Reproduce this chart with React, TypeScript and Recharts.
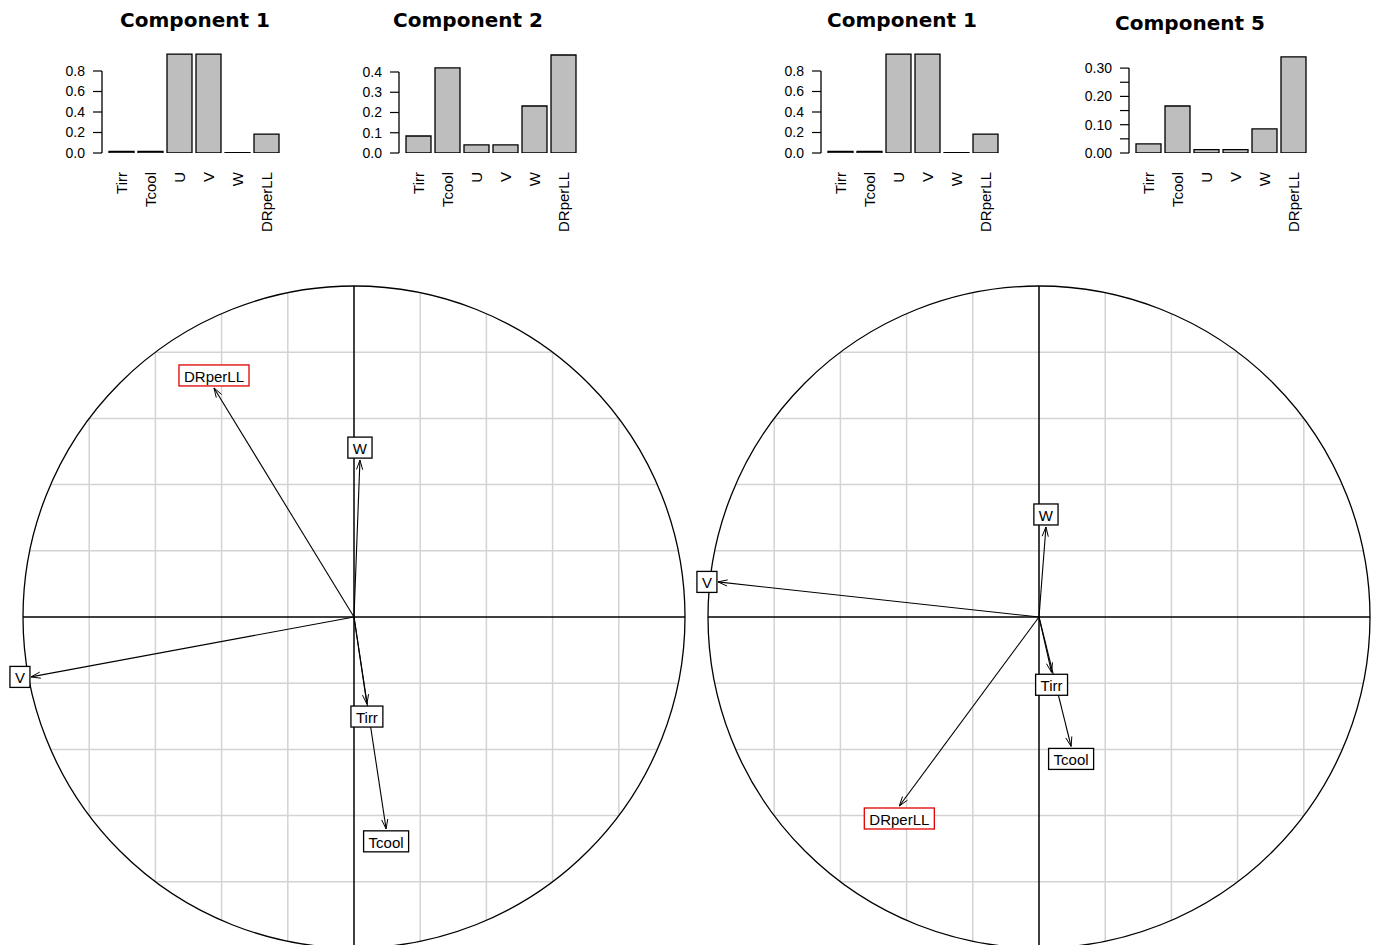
import React from 'react';
import { BarChart, Bar, XAxis, YAxis, ReferenceLine, ReferenceDot, ScatterChart, Scatter } from 'recharts';

const variables = ['Tirr', 'Tcool', 'U', 'V', 'W', 'DRperLL'];

// contributions per component
const comp1Contrib = [0.015, 0.015, 0.965, 0.965, 0.003, 0.185];
const comp2Contrib = [0.084, 0.42, 0.04, 0.04, 0.232, 0.484];
const comp5Contrib = [0.032, 0.166, 0.012, 0.012, 0.085, 0.34];

const comp1Ticks = [0, 0.2, 0.4, 0.6, 0.8];
const comp2Ticks = [0, 0.1, 0.2, 0.3, 0.4];
const comp5Ticks = [0, 0.05, 0.1, 0.15, 0.2, 0.25, 0.3];

// correlation circles (component 1 vs 2, component 1 vs 5)
const leftNames = ['DRperLL', 'W', 'V', 'Tirr', 'Tcool'];
const leftX = [-0.423, 0.018, -0.976, 0.039, 0.097];
const leftY = [0.692, 0.474, -0.181, -0.263, -0.64];

const rightNames = ['V', 'W', 'Tirr', 'Tcool', 'DRperLL'];
const rightX = [-0.97, 0.021, 0.038, 0.097, -0.422];
const rightY = [0.106, 0.272, -0.167, -0.391, -0.571];

const gridSteps = [-0.8, -0.6, -0.4, -0.2, 0.2, 0.4, 0.6, 0.8];

const FONT = "'Liberation Sans', Arial, Helvetica, sans-serif";
const BASE_Y = 153;
const Y_AXIS_W = 70;
const PLOT_W = 182;
const R = 331;
const M = 20;
const CENTER_Y = 617;

let ctx: CanvasRenderingContext2D | null = null;
function textWidth(s: string) {
  if (!ctx) ctx = document.createElement('canvas').getContext('2d');
  if (ctx) {
    ctx.font = "15px 'Liberation Sans'";
    return ctx.measureText(s).width;
  }
  return s.length * 8;
}

const VarTick = (props: any) => {
  const { x, y, payload } = props;
  return (
    <text
      x={0}
      y={0}
      transform={`translate(${x},${y + 19}) rotate(-90)`}
      textAnchor="end"
      dominantBaseline="central"
      fontSize={15}
      fontFamily={FONT}
      fill="#000"
    >
      {payload.value}
    </text>
  );
};

function BarPanel(props: any) {
  const { title, titleX, titleTop, axisX, values, ticks, yMax, pxPerUnit, fmt } = props;
  const data = variables.map((v, i) => ({ name: v, value: values[i] }));
  const plotH = yMax * pxPerUnit;
  const top = BASE_Y - plotH;
  return (
    <>
      <div
        style={{
          position: 'absolute',
          left: titleX - 120,
          top: titleTop,
          width: 240,
          textAlign: 'center',
          font: "bold 20px/20px 'DejaVu Sans', sans-serif",
          color: '#000',
        }}
      >
        {title}
      </div>
      <div style={{ position: 'absolute', left: axisX - Y_AXIS_W, top: 0 }}>
        <BarChart
          width={Y_AXIS_W + PLOT_W + 6}
          height={BASE_Y + 100}
          data={data}
          margin={{ top, right: 6, bottom: 0, left: 0 }}
          barSize={25}
        >
          <XAxis
            dataKey="name"
            type="category"
            axisLine={false}
            tickLine={false}
            tickSize={0}
            tickMargin={0}
            height={100}
            interval={0}
            padding={{ left: 5, right: 3 }}
            tick={<VarTick />}
          />
          <XAxis xAxisId="frame" type="number" domain={[0, 1]} hide />
          <YAxis
            type="number"
            domain={[0, yMax]}
            ticks={ticks}
            interval={0}
            allowDataOverflow
            width={Y_AXIS_W}
            axisLine={false}
            tickSize={9}
            tickMargin={8}
            tickLine={{ stroke: '#000', strokeWidth: 1.2 }}
            tick={{ fontSize: 14, fill: '#000', fontFamily: FONT }}
            tickFormatter={fmt}
          />
          <ReferenceLine
            xAxisId="frame"
            segment={[{ x: 0, y: 0 }, { x: 0, y: ticks[ticks.length - 1] }]}
            stroke="#000"
            strokeWidth={1.3}
          />
          <Bar dataKey="value" fill="#bebebe" stroke="#000" strokeWidth={1.3} isAnimationActive={false} />
        </BarChart>
      </div>
    </>
  );
}

const ArrowLabel = (props: any) => {
  const { cx, cy, payload } = props;
  const dx = payload.px;
  const dy = -payload.py;
  const len = Math.hypot(dx, dy) || 1;
  const vx = -dx / len;
  const vy = -dy / len;
  const a = (18 * Math.PI) / 180;
  const L = 10;
  const head = [a, -a].map((t) => [cx + L * (vx * Math.cos(t) - vy * Math.sin(t)), cy + L * (vx * Math.sin(t) + vy * Math.cos(t))]);
  const name: string = payload.name;
  const w = textWidth(name) + 10;
  const h = 21;
  let bx = cx;
  let by = cy;
  if (Math.abs(dy) >= Math.abs(dx)) {
    by = cy + Math.sign(dy) * (h / 2 + 2);
  } else {
    bx = cx + Math.sign(dx) * (w / 2 + 1);
  }
  const red = name === 'DRperLL';
  return (
    <g>
      <polyline
        points={`${head[0][0]},${head[0][1]} ${cx},${cy} ${head[1][0]},${head[1][1]}`}
        fill="none"
        stroke="#000"
        strokeWidth={1}
      />
      <rect x={bx - w / 2} y={by - h / 2} width={w} height={h} fill="#fff" stroke={red ? '#e00000' : '#000'} strokeWidth={1.3} />
      <text x={bx} y={by + 1} textAnchor="middle" dominantBaseline="central" fontSize={15} fontFamily={FONT} fill="#000">
        {name}
      </text>
    </g>
  );
};

function CirclePanel(props: any) {
  const { centerX, names, xs, ys } = props;
  const data = names.map((n: string, i: number) => ({ name: n, px: xs[i], py: ys[i] }));
  return (
    <div style={{ position: 'absolute', left: centerX - R - M, top: CENTER_Y - R - M }}>
      <ScatterChart width={2 * R + 2 * M} height={2 * R + 2 * M} margin={{ top: M, right: M, bottom: M, left: M }}>
        <XAxis type="number" dataKey="px" domain={[-1, 1]} hide />
        <YAxis type="number" dataKey="py" domain={[-1, 1]} hide />
        {gridSteps.map((g) => {
          const h = Math.sqrt(1 - g * g);
          return (
            <ReferenceLine key={'v' + g} segment={[{ x: g, y: -h }, { x: g, y: h }]} stroke="#d3d3d3" strokeWidth={1.5} />
          );
        })}
        {gridSteps.map((g) => {
          const h = Math.sqrt(1 - g * g);
          return (
            <ReferenceLine key={'h' + g} segment={[{ x: -h, y: g }, { x: h, y: g }]} stroke="#d3d3d3" strokeWidth={1.5} />
          );
        })}
        <ReferenceLine x={0} stroke="#000" strokeWidth={1.5} />
        <ReferenceLine y={0} stroke="#000" strokeWidth={1.5} />
        <ReferenceDot x={0} y={0} r={R} fill="none" stroke="#000" strokeWidth={1.3} />
        {data.map((d: any) => (
          <ReferenceLine key={'a' + d.name} segment={[{ x: 0, y: 0 }, { x: d.px, y: d.py }]} stroke="#000" strokeWidth={1.1} />
        ))}
        <Scatter data={data} shape={ArrowLabel} isAnimationActive={false} />
      </ScatterChart>
    </div>
  );
}

const fmt1 = (v: number) => v.toFixed(1);
const fmt5 = (v: number) => (Math.round(v * 100) % 10 === 0 ? v.toFixed(2) : '');

export default function App() {
  return (
    <div
      style={{
        position: 'absolute',
        left: 0,
        top: 0,
        width: 1373,
        height: 945,
        overflow: 'hidden',
        background: '#fff',
        fontFamily: FONT,
      }}
    >
      <BarPanel title="Component 1" titleX={195} titleTop={10} axisX={102} values={comp1Contrib} ticks={comp1Ticks} yMax={1.0} pxPerUnit={102.5} fmt={fmt1} />
      <BarPanel title="Component 2" titleX={468} titleTop={10} axisX={399} values={comp2Contrib} ticks={comp2Ticks} yMax={0.5} pxPerUnit={202.5} fmt={fmt1} />
      <BarPanel title="Component 1" titleX={902} titleTop={10} axisX={821} values={comp1Contrib} ticks={comp1Ticks} yMax={1.0} pxPerUnit={102.5} fmt={fmt1} />
      <BarPanel title="Component 5" titleX={1190} titleTop={12.5} axisX={1129} values={comp5Contrib} ticks={comp5Ticks} yMax={0.35} pxPerUnit={283} fmt={fmt5} />
      <CirclePanel centerX={354} names={leftNames} xs={leftX} ys={leftY} />
      <CirclePanel centerX={1039} names={rightNames} xs={rightX} ys={rightY} />
    </div>
  );
}
